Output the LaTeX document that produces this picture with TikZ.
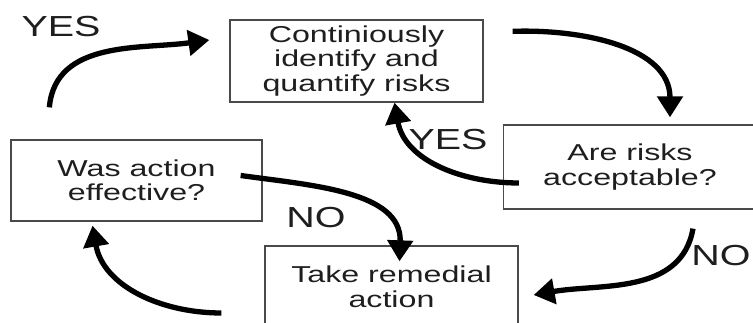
\documentclass[tikz,border=0pt]{standalone}
\usepackage{fontspec}
\setmainfont{Liberation Sans}
\newfontfamily\wideboxfont[FakeStretch=1.4]{Liberation Sans}
\newfontfamily\widelblfont[FakeStretch=1.36]{Liberation Sans}
\usetikzlibrary{arrows.meta}
\definecolor{inkgray}{HTML}{1E1E1E}
\definecolor{boxline}{HTML}{4A4A4A}

\begin{document}
\begin{tikzpicture}[
  x=1pt, y=1pt,
  stepbox/.style = {draw=boxline, line width=1.3pt, fill=white, align=center, inner sep=0pt,
                    minimum width=253pt, minimum height=82pt, text=inkgray,
                    font=\wideboxfont\fontsize{23}{24.5}\selectfont},
  loop/.style    = {-{Triangle[length=21pt,width=25pt]}, draw=black, line width=5.3pt},
  lbl/.style     = {font=\widelblfont\fontsize{29}{31}\selectfont, text=inkgray, inner sep=0pt},
]
\useasboundingbox (0,0) rectangle (753,323);
\clip (0,0) rectangle (753,323);

% --- the four steps of the cycle ------------------------------------------------------------------
\node[stepbox] (ident) at (356.5,262) {Continiously\\identify and\\quantify risks};
\node[stepbox, minimum height=84pt] (accept) at (630,156) {Are risks\\acceptable?};
\node[stepbox, minimum width=251pt, minimum height=81pt] (effect) at (136.5,142.5) {Was action\\effective?};
\node[stepbox] (remedy) at (391.5,36) {Take remedial\\action};

% --- answers --------------------------------------------------------------------------------------
\node[lbl] (yestop) at (61,296) {YES};
\node[lbl] (yesmid) at (448,183) {YES};
\node[lbl] (nomid)  at (316,105) {NO};
\node[lbl] (noright) at (721,67) {NO};

% --- the arrows round the cycle -------------------------------------------------------------------
\draw[loop] ([xshift=29pt,yshift=-12pt]ident.north east) to[out=2, in=90]
            ([xshift=40pt,yshift=7pt]accept.north);
\draw[loop] ([xshift=16pt,yshift=-16pt]accept.west) to[out=180, in=-80]
            ([xshift=38pt]ident.south);
\draw[loop] ([xshift=63pt,yshift=-19pt]accept.south) to[out=-100, in=10]
            ([xshift=15pt,yshift=-8pt]remedy.east);
\draw[loop] ([xshift=-22pt,yshift=5pt]effect.east) to[out=-8, in=88]
            ([xshift=8pt,yshift=-16pt]remedy.north);
\draw[loop] ([xshift=-43pt,yshift=-26pt]remedy.west) to[out=180, in=-80]
            ([xshift=-44pt,yshift=-4pt]effect.south);
\draw[loop] ([xshift=39pt,yshift=32pt]effect.north west) to[out=85, in=188]
            ([xshift=-20pt,yshift=21pt]ident.west);

\end{tikzpicture}
\end{document}
